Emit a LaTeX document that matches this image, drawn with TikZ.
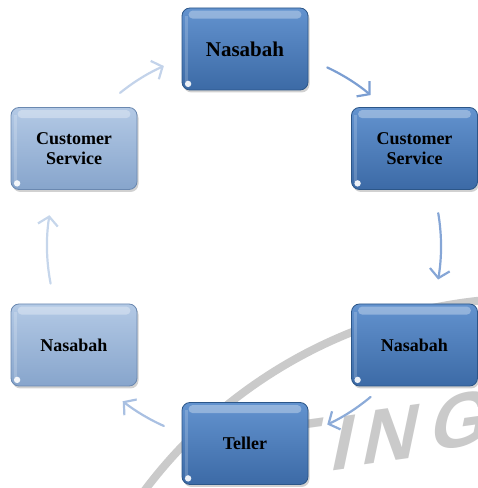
\documentclass[tikz,border=0pt]{standalone}
\usepackage{fontspec}
\setmainfont{Liberation Serif}
\setsansfont{Liberation Sans}
\usetikzlibrary{arrows.meta,shadows,calc}

\definecolor{deepTop}{HTML}{6393CF}
\definecolor{deepBot}{HTML}{3C6AA6}
\definecolor{deepRim}{HTML}{2C5688}
\definecolor{paleTop}{HTML}{B3C9E5}
\definecolor{paleBot}{HTML}{87A5CC}
\definecolor{paleRim}{HTML}{6A88B0}
\definecolor{markGray}{HTML}{CACACA}

% glossy top band and corner glint of a card
\newcommand\glossy[1]{%
  \fill[white,opacity=.32,rounded corners=4pt]
    ($(#1.north west)+(7,-3)$) rectangle ($(#1.north east)+(-7,-11)$);
  \fill[white,opacity=.18]
    ($(#1.north west)+(3,-8)$) rectangle ($(#1.south west)+(6,8)$);
  \fill[white,opacity=.9] ($(#1.south west)+(6.5,6.5)$) circle (3.2);
}

\begin{document}
\begin{tikzpicture}[x=1pt,y=1pt,
  card/.style={rounded corners=8pt, minimum width=126pt, minimum height=82pt,
    inner sep=0pt, align=center, text=black, line width=0.8pt,
    font=\bfseries\fontsize{18}{19.5}\selectfont,
    drop shadow={shadow xshift=1.5pt, shadow yshift=-2.5pt, opacity=.3, fill=black!60}},
  deep/.style={card, draw=deepRim, top color=deepTop, bottom color=deepBot},
  pale/.style={card, draw=paleRim, top color=paleTop, bottom color=paleBot},
  flow/.style={line width=2.2pt, line cap=round,
    -{Straight Barb[length=8.5pt,width=20pt]}},
  seal/.style={markGray, font=\sffamily\bfseries\fontsize{76}{76}\selectfont, inner sep=0pt,
    transform shape, rotate=8, xslant=0.36},
]
\useasboundingbox (0,0) rectangle (478,488);

% watermark ring and slanted lettering
\coordinate (sealc) at (530,-292);
\draw[markGray, line width=8pt] ($(sealc)+(88:482)$) arc[start angle=88, end angle=150, radius=482];
\node[seal] (wT) at (296,40) {T};
\node[seal] (wI) at (345,45) {I};
\node[seal] (wN) at (392,54) {N};
\node[seal] (wG) at (462,68) {G};

% cards of the cycle
\node[deep, font=\bfseries\fontsize{21}{23}\selectfont] (top) at (245,439) {Nasabah};
\node[deep] (csr) at (414.5,339.5) {Customer\\Service};
\node[deep] (nsr) at (414.5,143) {Nasabah};
\node[deep] (tel) at (245,44.5) {Teller};
\node[pale] (nsl) at (74,143) {Nasabah};
\node[pale] (csl) at (74,339.5) {Customer\\Service};
\foreach \n in {top,csr,nsr,tel,nsl,csl} {\glossy{\n}}

% arc arrows on a common circle, clockwise
\coordinate (hub) at (244,242);
\path (hub) ++(129:197) coordinate (f1) (hub) ++(65:197) coordinate (f2)
      (hub) ++(9.6:197) coordinate (f3) (hub) ++(-50:197) coordinate (f4)
      (hub) ++(-114:197) coordinate (f5) (hub) ++(191:197) coordinate (f6);
\draw[flow, color={rgb,255:red,195;green,211;blue,234}] (f1) arc[start angle=129, end angle=114, radius=197];
\draw[flow, color={rgb,255:red,123;green,158;blue,210}] (f2) arc[start angle=65, end angle=50, radius=197];
\draw[flow, color={rgb,255:red,134;green,166;blue,214}] (f3) arc[start angle=9.6, end angle=-9.8, radius=197];
\draw[flow, color={rgb,255:red,140;green,171;blue,216}] (f4) arc[start angle=-50, end angle=-65, radius=197];
\draw[flow, color={rgb,255:red,169;green,192;blue,226}] (f5) arc[start angle=-114, end angle=-128, radius=197];
\draw[flow, color={rgb,255:red,198;green,214;blue,235}] (f6) arc[start angle=191, end angle=171, radius=197];
\end{tikzpicture}
\end{document}
